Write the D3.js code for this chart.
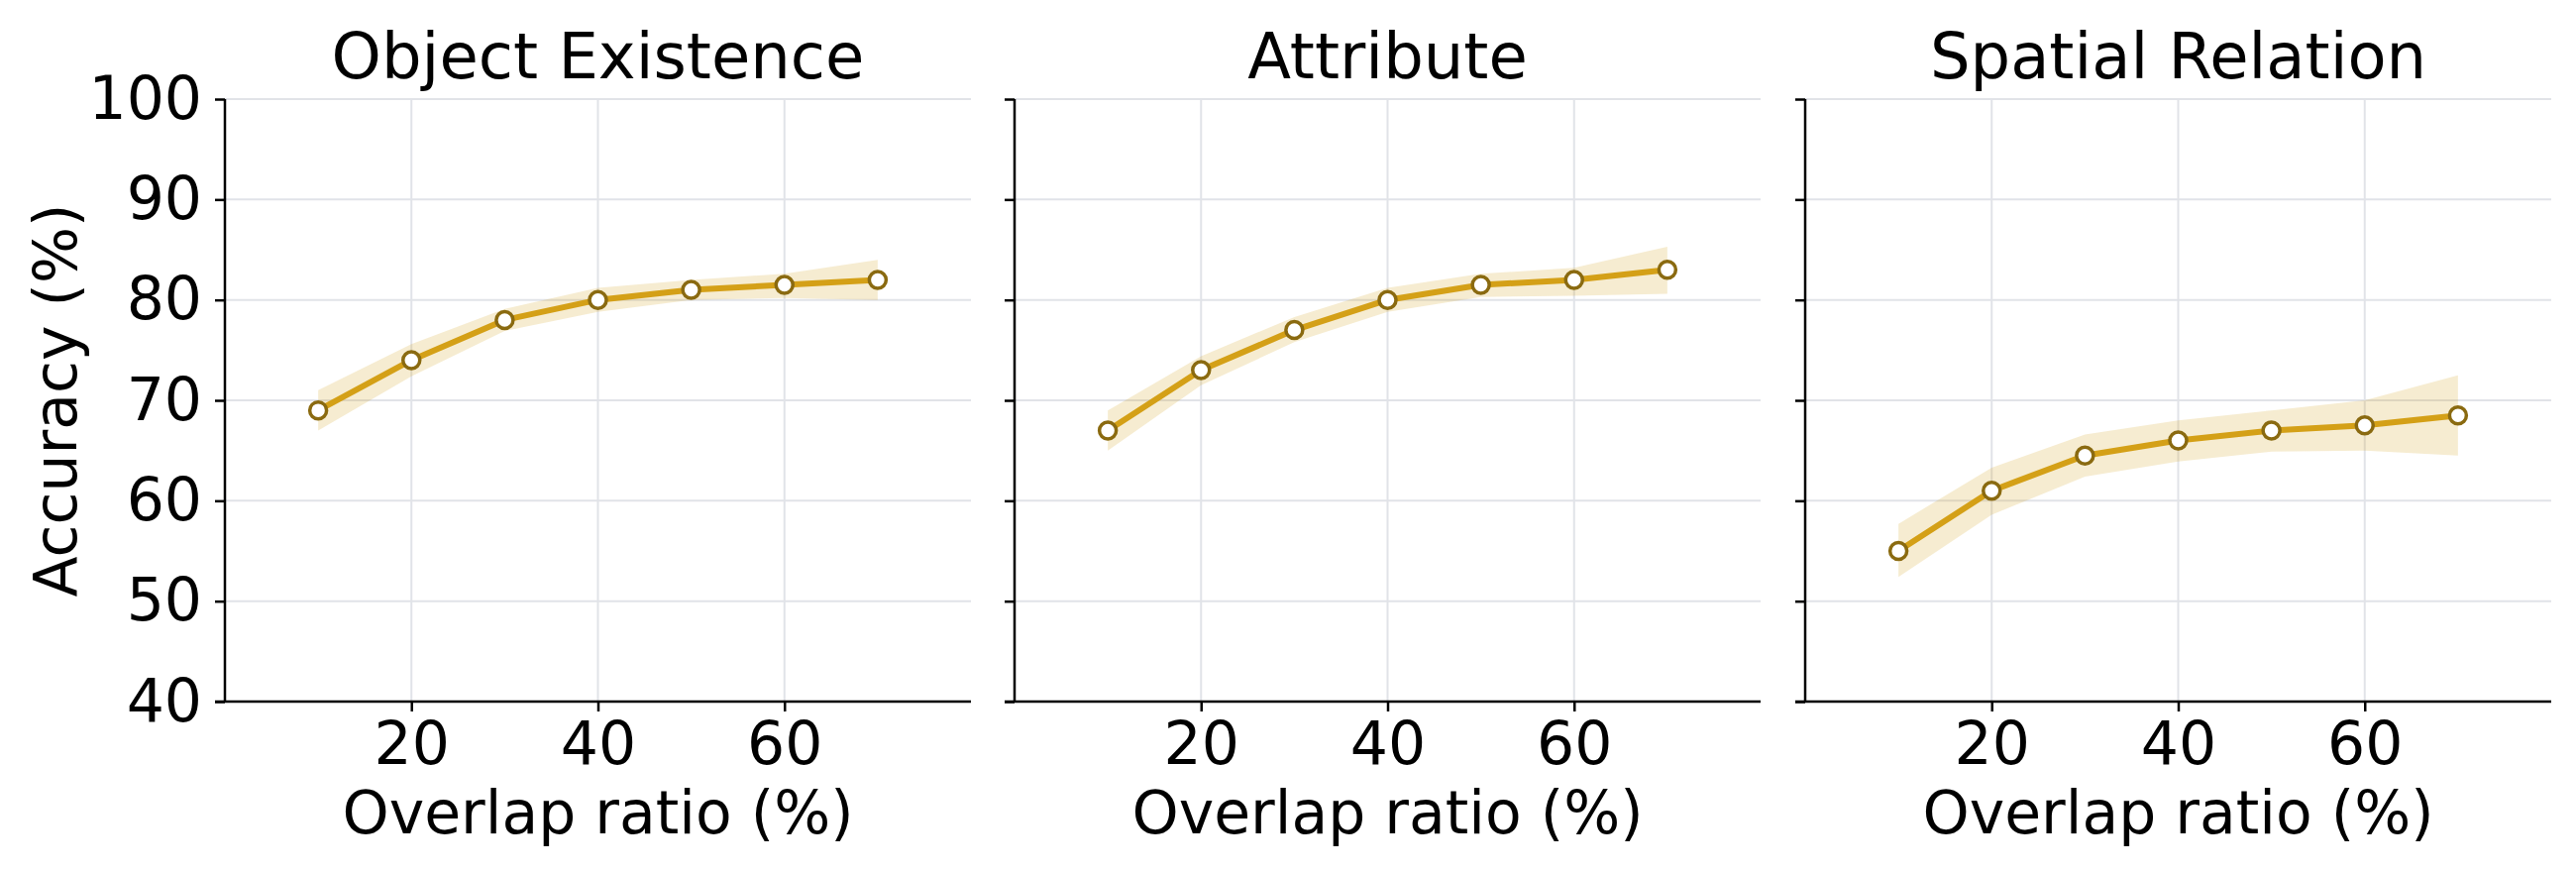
<!DOCTYPE html>
<html>
<head>
<meta charset="utf-8">
<script src="https://cdn.jsdelivr.net/npm/d3@7"></script>
<style>
  body { margin: 0; background: #fff; }
  svg { display: block; font-family: "DejaVu Sans", sans-serif; }
</style>
</head>
<body>
<div id="chart"></div>
<script>
// values
const overlap = [10, 20, 30, 40, 50, 60, 70];
const panelTitles = ["Object Existence", "Attribute", "Spatial Relation"];

const existenceMean  = [69, 74, 78, 80, 81, 81.5, 82];
const existenceLower = [67, 72.4, 76.9, 78.8, 80, 80.2, 80];
const existenceUpper = [71, 75.6, 79.1, 81.2, 82, 82.6, 84];

const attributeMean  = [67, 73, 77, 80, 81.5, 82, 83];
const attributeLower = [65, 71.5, 75.8, 78.8, 80.3, 80.4, 80.6];
const attributeUpper = [69, 74.4, 78.3, 81.2, 82.6, 83.2, 85.3];

const spatialMean  = [55, 61, 64.5, 66, 67, 67.5, 68.5];
const spatialLower = [52.4, 58.6, 62.4, 63.9, 64.9, 65, 64.5];
const spatialUpper = [57.7, 63.3, 66.6, 68, 69, 70, 72.5];

const xTicks = [20, 40, 60];
const yTicks = [40, 50, 60, 70, 80, 90, 100];

const width = 2600, height = 880;
const plotTop = 100, plotBottom = 708;
const panelLefts = [227, 1024, 1822];
const panelWidth = 753;

const lineColor = "#d4a017";
const edgeColor = "#8a6a10";

const series = [
  { mean: existenceMean, lower: existenceLower, upper: existenceUpper },
  { mean: attributeMean, lower: attributeLower, upper: attributeUpper },
  { mean: spatialMean, lower: spatialLower, upper: spatialUpper }
];

const svg = d3.select("#chart").append("svg")
  .attr("width", width)
  .attr("height", height);

const y = d3.scaleLinear().domain([40, 100]).range([plotBottom, plotTop]);

series.forEach((s, i) => {
  const left = panelLefts[i];
  const x = d3.scaleLinear().domain([0, 80]).range([left, left + panelWidth]);
  const g = svg.append("g");

  // grid
  g.selectAll(".hgrid").data(yTicks.slice(1)).enter().append("line")
    .attr("x1", left).attr("x2", left + panelWidth)
    .attr("y1", d => y(d)).attr("y2", d => y(d))
    .attr("stroke", "#e1e3e8").attr("stroke-width", 2);
  g.selectAll(".vgrid").data(xTicks).enter().append("line")
    .attr("x1", d => x(d)).attr("x2", d => x(d))
    .attr("y1", plotTop).attr("y2", plotBottom)
    .attr("stroke", "#e1e3e8").attr("stroke-width", 2);

  const rows = overlap.map((o, j) => ({ o: o, m: s.mean[j], lo: s.lower[j], hi: s.upper[j] }));

  // confidence band
  g.append("path")
    .datum(rows)
    .attr("d", d3.area().x(d => x(d.o)).y0(d => y(d.lo)).y1(d => y(d.hi)))
    .attr("fill", lineColor)
    .attr("fill-opacity", 0.2);

  // line
  g.append("path")
    .datum(rows)
    .attr("d", d3.line().x(d => x(d.o)).y(d => y(d.m)))
    .attr("fill", "none")
    .attr("stroke", lineColor)
    .attr("stroke-width", 6)
    .attr("stroke-linejoin", "round");

  // markers
  g.selectAll(".pt").data(rows).enter().append("circle")
    .attr("cx", d => x(d.o)).attr("cy", d => y(d.m))
    .attr("r", 8.5)
    .attr("fill", "#fff")
    .attr("stroke", edgeColor)
    .attr("stroke-width", 3.5);

  // axes
  const xAxis = g.append("g")
    .attr("transform", "translate(0," + plotBottom + ")")
    .call(d3.axisBottom(x).tickValues(xTicks).tickSize(10).tickPadding(10));
  const yAxis = g.append("g")
    .attr("transform", "translate(" + left + ",0)")
    .call(d3.axisLeft(y).tickValues(yTicks).tickSize(10).tickPadding(13)
      .tickFormat(i === 0 ? d3.format("d") : ""));

  [xAxis, yAxis].forEach(a => {
    a.select(".domain").attr("stroke", "#000").attr("stroke-width", 2.5);
    a.selectAll(".tick line").attr("stroke", "#000").attr("stroke-width", 2.5);
    a.selectAll(".tick text")
      .attr("fill", "#000")
      .style("font-size", "60px")
      .style("font-family", "DejaVu Sans");
  });
  xAxis.select(".domain").attr("d", "M" + (left - 10) + ",0H" + (left + panelWidth));
  yAxis.select(".domain").attr("d", "M0," + plotBottom + "V" + plotTop);

  // title
  g.append("text")
    .attr("x", left + panelWidth / 2)
    .attr("y", 79)
    .attr("text-anchor", "middle")
    .style("font-size", "64px")
    .text(panelTitles[i]);

  // x label
  g.append("text")
    .attr("x", left + panelWidth / 2)
    .attr("y", 841)
    .attr("text-anchor", "middle")
    .style("font-size", "60px")
    .text("Overlap ratio (%)");
});

svg.append("text")
  .attr("transform", "translate(77," + (plotTop + plotBottom) / 2 + ") rotate(-90)")
  .attr("text-anchor", "middle")
  .style("font-size", "60px")
  .text("Accuracy (%)");
</script>
</body>
</html>
